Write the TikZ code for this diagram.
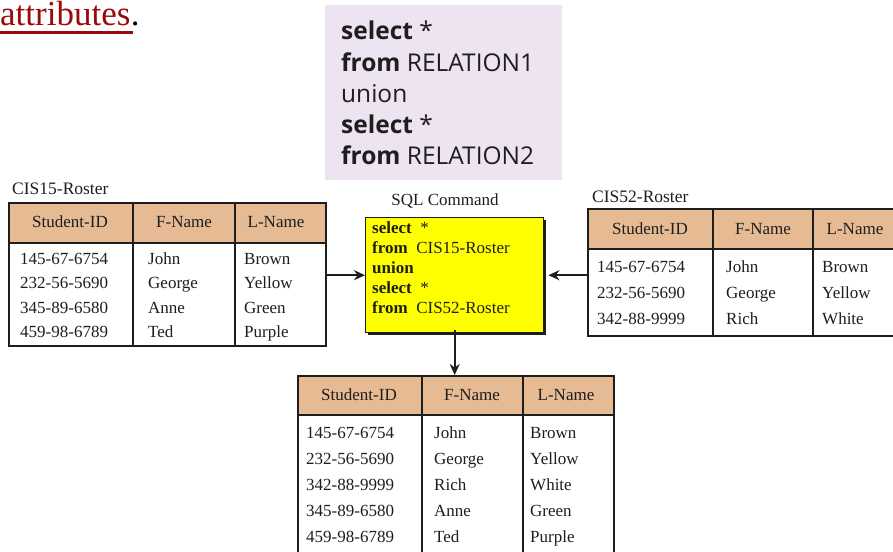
\documentclass[tikz,border=0pt]{standalone}
\usepackage{fontspec}
\setmainfont{Liberation Serif}
\newfontfamily\sqlsans{Open Sans}
\usetikzlibrary{arrows.meta}
\definecolor{hdr}{HTML}{E6BA92}
\definecolor{pinkbg}{HTML}{EEE4F1}
\definecolor{attrred}{HTML}{9B0A0A}
\definecolor{sqlyellow}{HTML}{FFFF00}
\definecolor{ink}{HTML}{1E1E1E}
\tikzset{
  tframe/.style={draw=ink, line width=2.4pt, rectangle, inner sep=0pt, anchor=north west},
  thead/.style={fill=hdr, draw=ink, line width=2.4pt, rectangle, inner sep=0pt, anchor=north west},
  tline/.style={draw=ink, line width=2pt},
  htext/.style={font=\fontsize{17}{19}\selectfont, text=ink, inner sep=0pt},
  dtext/.style={font=\fontsize{17}{19}\selectfont, text=ink, inner sep=0pt, anchor=base west},
  lbl/.style={font=\fontsize{17.5}{19}\selectfont, text=ink, inner sep=0pt, anchor=west},
  arr/.style={draw=ink, line width=2pt, -{Stealth[length=11pt,width=10pt]}},
}
\begin{document}
\begin{tikzpicture}[x=1pt,y=-1pt]
\path[use as bounding box, clip] (0,0) rectangle (893,551);
\fill[white] (0,0) rectangle (893,551);

% title fragment
\node[anchor=base west, inner sep=0pt, text=attrred, font=\fontsize{35}{37}\selectfont] (attr) at (0,26) {attributes};
\draw[attrred, line width=2.2pt] (attr.base west) ++(0,6.5) -- ++(133,0);
\node[anchor=base west, inner sep=0pt, font=\fontsize{35}{37}\selectfont] (dot) at (attr.base east) {.};

% pink SQL example box
\node[fill=pinkbg, rectangle, inner sep=0pt, anchor=north west, minimum width=237pt, minimum height=175pt] (pink) at (325,5) {};
\begin{scope}[every node/.style={inner sep=0pt, anchor=base west, text=ink, font=\sqlsans\fontsize{24.5}{26}\selectfont}]
\node (p1) at (341,40) {\textbf{select} *};
\node (p2) at (341,71) {\textbf{from} RELATION1};
\node (p3) at (341,102) {union};
\node (p4) at (341,133) {\textbf{select} *};
\node (p5) at (341,164) {\textbf{from} RELATION2};
\end{scope}

% ---------- Table 1 ----------
\node[lbl] (l1) at (12,189) {CIS15-Roster};
\node[thead, minimum width=317pt, minimum height=40pt] (t1h) at (8,202) {};
\node[tframe, minimum width=317pt, minimum height=143pt] (t1) at (8,202) {};
\draw[tline] (133,202) -- (133,345);
\draw[tline] (235,202) -- (235,345);
\node[htext] at (70,222) {Student-ID};
\node[htext] at (184,222) {F-Name};
\node[htext] at (276,222) {L-Name};
\foreach \y/\a/\b/\c in {264/145-67-6754/John/Brown, 288/232-56-5690/George/Yellow, 313/345-89-6580/Anne/Green, 337/459-98-6789/Ted/Purple}{
  \node[dtext] at (20,\y) {\a};
  \node[dtext] at (148,\y) {\b};
  \node[dtext] at (244,\y) {\c};
}

% ---------- Table 2 ----------
\node[lbl] (l2) at (592,197) {CIS52-Roster};
\node[thead, minimum width=320pt, minimum height=40pt] (t2h) at (587,208) {};
\node[tframe, minimum width=320pt, minimum height=127pt] (t2) at (587,208) {};
\draw[tline] (713,208) -- (713,335);
\draw[tline] (813,208) -- (813,335);
\node[htext] at (650,229) {Student-ID};
\node[htext] at (763,229) {F-Name};
\node[htext] at (855,229) {L-Name};
\foreach \y/\a/\b/\c in {272/145-67-6754/John/Brown, 298/232-56-5690/George/Yellow, 324/342-88-9999/Rich/White}{
  \node[dtext] at (597,\y) {\a};
  \node[dtext] at (726,\y) {\b};
  \node[dtext] at (822,\y) {\c};
}

% ---------- SQL command box ----------
\node[font=\fontsize{17}{19}\selectfont, text=ink, inner sep=0pt] (sqll) at (445,201) {SQL Command};
\fill[ink] (368,220) rectangle (546,335);
\node[fill=sqlyellow, draw=ink, line width=1.4pt, rectangle, inner sep=0pt, anchor=north west, minimum width=178pt, minimum height=115pt] (sql) at (365,217) {};
\begin{scope}[every node/.style={inner sep=0pt, anchor=base west, text=ink, font=\fontsize{17}{19}\selectfont}]
\node (s1) at (372,233) {\textbf{select}\ \ *};
\node (s2) at (372,253) {\textbf{from}\ \ CIS15-Roster};
\node (s3) at (372,273) {\textbf{union}};
\node (s4) at (372,293) {\textbf{select}\ \ *};
\node (s5) at (372,313) {\textbf{from}\ \ CIS52-Roster};
\end{scope}

% ---------- Table 3 ----------
\node[thead, minimum width=316pt, minimum height=39pt] (t3h) at (297,375) {};
\node[tframe, minimum width=316pt, minimum height=200pt] (t3) at (297,375) {};
\draw[tline] (422,375) -- (422,575);
\draw[tline] (523,375) -- (523,575);
\node[htext] at (359,395) {Student-ID};
\node[htext] at (472,395) {F-Name};
\node[htext] at (566,395) {L-Name};
\foreach \y/\a/\b/\c in {438/145-67-6754/John/Brown, 464/232-56-5690/George/Yellow, 490/342-88-9999/Rich/White, 516/345-89-6580/Anne/Green, 542/459-98-6789/Ted/Purple}{
  \node[dtext] at (306,\y) {\a};
  \node[dtext] at (434,\y) {\b};
  \node[dtext] at (530,\y) {\c};
}

% ---------- connectors ----------
\draw[arr] (t1.east |- sql.west) -- (sql.west);
\coordinate (sqlr) at ([xshift=4pt]sql.east);
\draw[arr] (t2.west |- sql.east) -- (sqlr);
\coordinate (sqlb) at ([yshift=3pt]sql.south);
\draw[arr] (sqlb) -- (sqlb |- t3.north);
\end{tikzpicture}
\end{document}
